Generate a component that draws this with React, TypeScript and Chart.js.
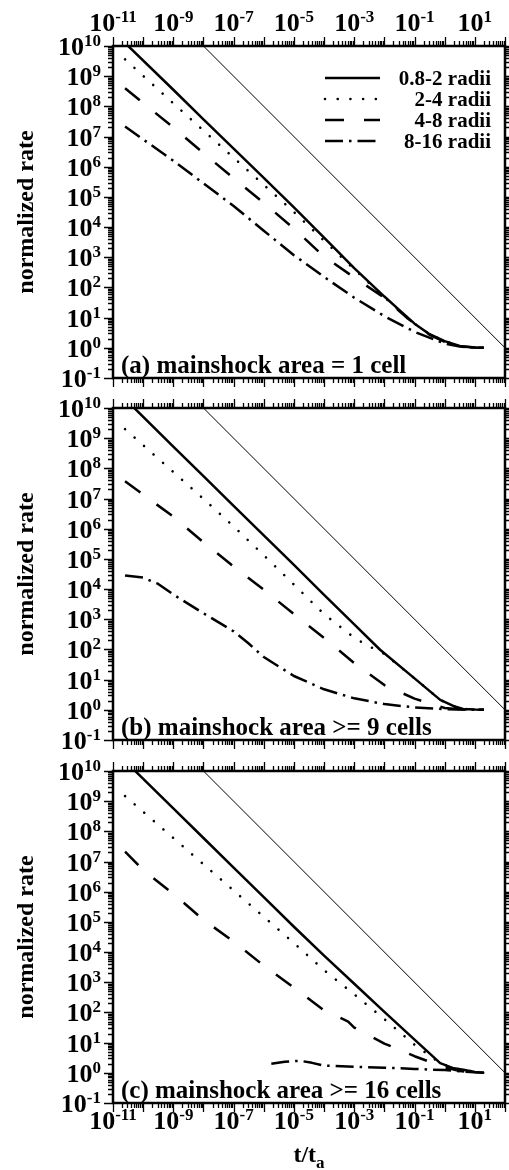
import React, { useEffect, useRef } from 'react';
import { Chart, registerables } from 'chart.js';

Chart.register(...registerables);

// ---------------- data ----------------
const X_MIN = 1e-11;
const X_MAX = 1e2;
const Y_MIN = 0.1;
const Y_MAX = 1e10;
const xLabelExps = [-11, -9, -7, -5, -3, -1, 1];
const yLabelExps = [-1, 0, 1, 2, 3, 4, 5, 6, 7, 8, 9, 10];
const seriesNames = ['0.8-2 radii', '2-4 radii', '4-8 radii', '8-16 radii'];
const panelTitles = ['(a) mainshock area = 1 cell', '(b) mainshock area >= 9 cells', '(c) mainshock area >= 16 cells'];
const yTitle = 'normalized rate';

// reference line (slope -1)
const refT = [1e-8, 1e2];
const refRate = [1e10, 1];

// panel (a)
const tA_solid = [2.51e-11, 1e-9, 1e-8, 1e-7, 1e-6, 1e-5, 1e-4, 1e-3, 1e-2, 0.0316, 0.1, 0.316, 1, 3.16, 10, 20];
const rA_solid = [1.26e10, 3.55e8, 3.72e7, 3.98e6, 4.27e5, 4.47e4, 4.47e3, 437, 50, 17.8, 6.3, 2.82, 1.66, 1.15, 1.02, 1.0];
const tA_dot = [2.51e-11, 1e-9, 1e-8, 1e-7, 1e-6, 1e-5, 1e-4, 1e-3, 1e-2, 0.0316, 0.1, 0.316, 1, 3.16, 10, 20];
const rA_dot = [3.63e9, 1.26e8, 1.58e7, 2.0e6, 2.51e5, 3.16e4, 3.55e3, 398, 47.9, 17.0, 6.3, 2.82, 1.66, 1.15, 1.02, 1.0];
const tA_dash = [2.51e-11, 1e-9, 1e-8, 1e-7, 1e-6, 1e-5, 1e-4, 1e-3, 1e-2, 0.055, 0.316, 1, 3.16, 10, 20];
const rA_dash = [3.98e8, 2.0e7, 2.82e6, 4.17e5, 6.31e4, 8.91e3, 1.05e3, 214, 45.7, 10, 2.69, 1.58, 1.12, 1.02, 1.0];
const tA_dd = [2.51e-11, 1e-9, 1e-8, 1e-7, 1e-6, 1e-5, 1e-4, 1e-3, 1e-2, 0.1, 1, 3.16, 10, 20];
const rA_dd = [2.14e7, 1.58e6, 2.82e5, 5.01e4, 7.59e3, 1.17e3, 224, 45.7, 11.2, 3.39, 1.38, 1.1, 1.02, 1.0];

// panel (b)
const tB_solid = [2.51e-11, 1e-9, 1e-8, 1e-7, 1e-6, 1e-5, 1e-4, 1e-3, 7.2e-3, 0.1, 0.71, 2, 4.07, 10, 20];
const rB_solid = [2.0e10, 5.25e8, 5.5e7, 5.75e6, 6.03e5, 6.31e4, 6.46e3, 676, 97.7, 11.0, 2.14, 1.32, 1.07, 1.02, 1.0];
const tB_dot = [2.51e-11, 1e-9, 1e-8, 1e-7, 1e-6, 1e-5, 1e-4, 1e-3, 3.16e-3, 1e-2, 0.1, 0.71, 2, 4.07, 10, 20];
const rB_dot = [2.0e9, 7.59e7, 9.77e6, 1.2e6, 1.32e5, 1.41e4, 1.48e3, 245, 126, 70.8, 11.0, 2.14, 1.32, 1.07, 1.02, 1.0];
const tB_dash = [2.51e-11, 1e-9, 1e-8, 1e-7, 1e-6, 1e-5, 1e-4, 1e-3, 1e-2, 0.1, 1, 3.16, 10, 20];
const rB_dash = [3.72e7, 2.51e6, 3.55e5, 5.62e4, 9.55e3, 1.48e3, 240, 35.5, 6.61, 2.34, 1.15, 1.05, 1.02, 1.0];
const tB_dd = [2.51e-11, 1e-10, 3.16e-10, 1e-9, 1e-8, 1e-7, 3.16e-7, 1e-6, 1e-5, 1e-4, 1e-3, 1e-2, 0.1, 1, 5, 20];
const rB_dd = [2.82e4, 2.4e4, 1.48e4, 6.61e3, 1.58e3, 398, 158, 56.2, 13.2, 4.79, 2.4, 1.55, 1.2, 1.05, 1.0, 1.0];

// panel (c)
const tC_solid = [2.51e-11, 1e-9, 1e-8, 1e-7, 1e-6, 1e-5, 1e-4, 1e-3, 1e-2, 0.1, 0.71, 2, 4.17, 10, 20];
const rC_solid = [2.14e10, 5.75e8, 6.03e7, 6.31e6, 6.61e5, 6.92e4, 7.59e3, 891, 105, 12.6, 2.09, 1.41, 1.26, 1.07, 1.0];
const tC_dot = [2.51e-11, 1e-9, 1e-8, 1e-7, 1e-6, 1e-5, 1e-4, 1e-3, 1e-2, 0.1, 0.71, 2, 4.17, 10, 20];
const rC_dot = [1.48e9, 6.03e7, 8.13e6, 1.1e6, 1.48e5, 2.0e4, 2.51e3, 398, 60.3, 8.51, 2.09, 1.41, 1.26, 1.07, 1.0];
const tC_dash = [2.51e-11, 1e-10, 1e-9, 1e-8, 1e-7, 1e-6, 1e-5, 1e-4, 6.3e-4, 1e-3, 1e-2, 0.1, 1, 3.16, 10, 20];
const rC_dash = [2.14e7, 5.25e6, 8.51e5, 1.17e5, 2.24e4, 3.55e3, 661, 117, 50.1, 31.6, 9.33, 3.55, 1.51, 1.15, 1.02, 1.0];
const tC_dd = [1.78e-6, 5.01e-6, 1.58e-5, 3.98e-5, 1e-4, 1e-3, 1e-2, 0.1, 1, 4.17, 20];
const rC_dd = [2.0, 2.34, 2.51, 2.14, 1.74, 1.58, 1.48, 1.35, 1.23, 1.1, 1.0];

// ---------------- styles ----------------
const STYLES = [
  { width: 2.5, dash: [] as number[], cap: 'butt' as CanvasLineCap },
  { width: 2.6, dash: [0.01, 12.7], cap: 'round' as CanvasLineCap },
  { width: 2.5, dash: [19, 20], cap: 'butt' as CanvasLineCap },
  { width: 2.5, dash: [18, 6, 2.5, 6], cap: 'butt' as CanvasLineCap },
];

const FONT_FAMILY = '"Liberation Serif", "Times New Roman", serif';
const BASE_FONT = `bold 26px ${FONT_FAMILY}`;
const SUP_FONT = `bold 17px ${FONT_FAMILY}`;

function pts(t: number[], r: number[]) {
  return t.map((v, i) => ({ x: v, y: r[i] }));
}

const PANELS = [
  {
    top: 0, h: 394, padTop: 46, padBottom: 16,
    series: [pts(tA_solid, rA_solid), pts(tA_dot, rA_dot), pts(tA_dash, rA_dash), pts(tA_dd, rA_dd)],
    title: panelTitles[0], topLabels: true, bottomLabels: false, legend: true,
  },
  {
    top: 394, h: 362, padTop: 14, padBottom: 16,
    series: [pts(tB_solid, rB_solid), pts(tB_dot, rB_dot), pts(tB_dash, rB_dash), pts(tB_dd, rB_dd)],
    title: panelTitles[1], topLabels: false, bottomLabels: false, legend: false,
  },
  {
    top: 756, h: 414, padTop: 15, padBottom: 67,
    series: [pts(tC_solid, rC_solid), pts(tC_dot, rC_dot), pts(tC_dash, rC_dash), pts(tC_dd, rC_dd)],
    title: panelTitles[2], topLabels: false, bottomLabels: true, legend: false,
  },
];

function drawPow(ctx: CanvasRenderingContext2D, exp: number, x: number, baseline: number, align: 'center' | 'right') {
  const base = '10';
  const sup = String(exp);
  ctx.font = BASE_FONT;
  const wb = ctx.measureText(base).width;
  ctx.font = SUP_FONT;
  const ws = ctx.measureText(sup).width;
  const total = wb + ws;
  const x0 = align === 'center' ? x - total / 2 : x - total;
  ctx.textAlign = 'left';
  ctx.textBaseline = 'alphabetic';
  ctx.font = BASE_FONT;
  ctx.fillText(base, x0, baseline);
  ctx.font = SUP_FONT;
  ctx.fillText(sup, x0 + wb, baseline - 9);
}

function makeDecor(cfg: any) {
  return {
    id: 'decor',
    afterDatasetsDraw(chart: any) {
      const ctx: CanvasRenderingContext2D = chart.ctx;
      const { left, right, top, bottom } = chart.chartArea;
      const xs = chart.scales.x;
      const ys = chart.scales.y;
      ctx.save();
      ctx.fillStyle = '#000';
      ctx.strokeStyle = '#000';

      // ticks
      ctx.lineWidth = 1.3;
      ctx.setLineDash([]);
      ctx.beginPath();
      for (let e = -11; e <= 2; e++) {
        for (let k = 1; k <= 9; k++) {
          const v = k * Math.pow(10, e);
          if (v < X_MIN * 0.999 || v > X_MAX * 1.001) continue;
          const px = Math.round(xs.getPixelForValue(v)) + 0.5;
          const len = k === 1 ? 9 : 5;
          ctx.moveTo(px, top);
          ctx.lineTo(px, top - len);
          ctx.moveTo(px, bottom);
          ctx.lineTo(px, bottom + len);
        }
      }
      for (let e = -1; e <= 10; e++) {
        for (let k = 1; k <= 9; k++) {
          const v = k * Math.pow(10, e);
          if (v < Y_MIN * 0.999 || v > Y_MAX * 1.001) continue;
          const py = Math.round(ys.getPixelForValue(v)) + 0.5;
          const len = k === 1 ? 9 : 5;
          ctx.moveTo(left, py);
          ctx.lineTo(left - len, py);
          ctx.moveTo(right, py);
          ctx.lineTo(right + len, py);
        }
      }
      ctx.stroke();

      // frame
      ctx.lineWidth = 2.5;
      ctx.strokeRect(left, top, right - left, bottom - top);

      // y labels
      for (const e of yLabelExps) {
        const py = ys.getPixelForValue(Math.pow(10, e));
        drawPow(ctx, e, 101, py + 9, 'right');
      }
      // x labels
      for (const e of xLabelExps) {
        const px = xs.getPixelForValue(Math.pow(10, e));
        if (cfg.topLabels) drawPow(ctx, e, px, top - 15, 'center');
        if (cfg.bottomLabels) drawPow(ctx, e, px, bottom + 26, 'center');
      }

      // y title
      ctx.save();
      ctx.translate(27, (top + bottom) / 2);
      ctx.rotate(-Math.PI / 2);
      ctx.font = `bold 24px ${FONT_FAMILY}`;
      ctx.textAlign = 'center';
      ctx.textBaseline = 'middle';
      ctx.fillText(yTitle, 0, 0);
      ctx.restore();

      // panel title
      ctx.font = `bold 25px ${FONT_FAMILY}`;
      ctx.textAlign = 'left';
      ctx.textBaseline = 'alphabetic';
      ctx.fillText(cfg.title, 121, bottom - 5);

      // legend
      if (cfg.legend) {
        seriesNames.forEach((name, i) => {
          const y = top + 32 + i * 21;
          const st = STYLES[i];
          ctx.lineWidth = st.width;
          ctx.lineCap = st.cap;
          ctx.setLineDash(st.dash);
          ctx.beginPath();
          ctx.moveTo(325, y);
          ctx.lineTo(380, y);
          ctx.stroke();
          ctx.setLineDash([]);
          ctx.lineCap = 'butt';
          ctx.font = `bold 21px ${FONT_FAMILY}`;
          ctx.textAlign = 'right';
          ctx.textBaseline = 'alphabetic';
          ctx.fillText(name, 491, y + 7);
        });
      }

      // x title
      if (cfg.bottomLabels) {
        const mainFont = `bold 24px ${FONT_FAMILY}`;
        ctx.font = mainFont;
        ctx.textAlign = 'left';
        ctx.textBaseline = 'alphabetic';
        const main = 't/t';
        const wm = ctx.measureText(main).width;
        ctx.font = SUP_FONT;
        const wsub = ctx.measureText('a').width;
        const cx = (left + right) / 2;
        const x0 = cx - (wm + wsub) / 2;
        ctx.font = mainFont;
        ctx.fillText(main, x0, bottom + 59);
        ctx.font = SUP_FONT;
        ctx.fillText('a', x0 + wm, bottom + 65);
      }
      ctx.restore();
    },
  };
}

function Panel({ cfg }: { cfg: any }) {
  const ref = useRef<HTMLCanvasElement>(null);
  useEffect(() => {
    const canvas = ref.current!;
    const datasets: any[] = cfg.series.map((data: any, i: number) => ({
      label: seriesNames[i],
      data,
      borderColor: '#000',
      backgroundColor: '#000',
      borderWidth: STYLES[i].width,
      borderDash: STYLES[i].dash,
      borderCapStyle: STYLES[i].cap,
      borderJoinStyle: 'round',
      pointRadius: 0,
      tension: 0,
      fill: false,
    }));
    datasets.push({
      label: 'reference',
      data: pts(refT, refRate),
      borderColor: '#000',
      borderWidth: 1,
      pointRadius: 0,
      tension: 0,
      fill: false,
    });
    const chart = new Chart(canvas, {
      type: 'line',
      data: { datasets },
      options: {
        responsive: false,
        animation: false,
        devicePixelRatio: 1,
        events: [],
        layout: { padding: { left: 113, right: 4, top: cfg.padTop, bottom: cfg.padBottom } },
        plugins: {
          legend: { display: false },
          tooltip: { enabled: false },
          title: { display: false },
        },
        scales: {
          x: { type: 'logarithmic', min: X_MIN, max: X_MAX, display: false },
          y: { type: 'logarithmic', min: Y_MIN, max: Y_MAX, display: false },
        },
      } as any,
      plugins: [makeDecor(cfg)],
    });
    return () => chart.destroy();
  }, [cfg]);
  return (
    <canvas
      ref={ref}
      width={509}
      height={cfg.h}
      style={{ position: 'absolute', left: 0, top: cfg.top, width: 509, height: cfg.h, display: 'block' }}
    />
  );
}

export default function App() {
  return (
    <div style={{ position: 'absolute', left: 0, top: 0, width: 509, height: 1170, background: '#fff' }}>
      {PANELS.map((p, i) => (
        <Panel key={i} cfg={p} />
      ))}
    </div>
  );
}
